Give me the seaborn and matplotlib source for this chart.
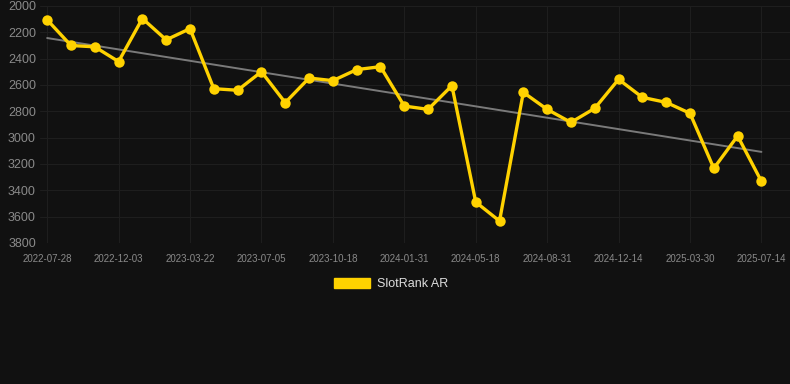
import numpy as np
import pandas as pd
import matplotlib
matplotlib.use("Agg")
import matplotlib.pyplot as plt
import seaborn as sns
from matplotlib.patches import Patch

dates = ["2022-07-28", "", "", "2022-12-03", "", "", "2023-03-22", "", "", "2023-07-05", "", "",
         "2023-10-18", "", "", "2024-01-31", "", "", "2024-05-18", "", "", "2024-08-31", "", "",
         "2024-12-14", "", "", "2025-03-30", "", "", "2025-07-14"]
ranks = [2105, 2300, 2310, 2422, 2095, 2257, 2172, 2628, 2640, 2499, 2734, 2547, 2567, 2483, 2461,
         2760, 2785, 2605, 3489, 3633, 2656, 2785, 2884, 2777, 2557, 2694, 2732, 2815, 3233, 2987, 3332]
tick_labels = [d for d in dates if d]
series_name = "SlotRank AR"

bg = "#111111"
gold = "#FFD200"

sns.set_theme(style="dark")
plt.rcParams['font.family'] = ['Liberation Sans', 'DejaVu Sans']

df = pd.DataFrame({"idx": np.arange(len(ranks)), "rank": ranks})

fig = plt.figure(figsize=(7.9, 3.84), dpi=100, facecolor=bg)
ax = fig.add_axes([40/790, 1 - 243/384, 750/790, 237/384])
ax.set_facecolor(bg)

# trend line
coef = np.polyfit(df["idx"], df["rank"], 1)
trend = np.polyval(coef, df["idx"])
sns.lineplot(x=df["idx"], y=trend, ax=ax, color="#7a7a7a", linewidth=1.4, zorder=2)

sns.lineplot(data=df, x="idx", y="rank", ax=ax, color=gold, linewidth=2.4,
             marker="o", markersize=7.5, markeredgewidth=0, zorder=3)

ax.set_ylim(3800, 2000)
ax.set_yticks(np.arange(2000, 3801, 200))
ax.set_xlim(-0.3, 31.2)
tick_pos = [i for i, d in enumerate(dates) if d]
ax.set_xticks(tick_pos)
ax.set_xticklabels(tick_labels)
ax.set_xlabel("")
ax.set_ylabel("")
ax.grid(True, color="#1e1e1e", linewidth=0.8)
for s in ax.spines.values():
    s.set_visible(False)
ax.tick_params(axis="y", colors="#8a8a8a", labelsize=9, length=0, pad=3)
ax.tick_params(axis="x", colors="#8a8a8a", labelsize=7, length=0, pad=8)

fig.legend(handles=[Patch(facecolor=gold, edgecolor=gold, label=series_name)],
           loc="center", bbox_to_anchor=(391/790, 1 - 284/384), frameon=False,
           handlelength=2.9, handleheight=0.9, fontsize=9, labelcolor="#dddddd",
           handletextpad=0.5)

fig.savefig("out.png", dpi=100, facecolor=bg)
